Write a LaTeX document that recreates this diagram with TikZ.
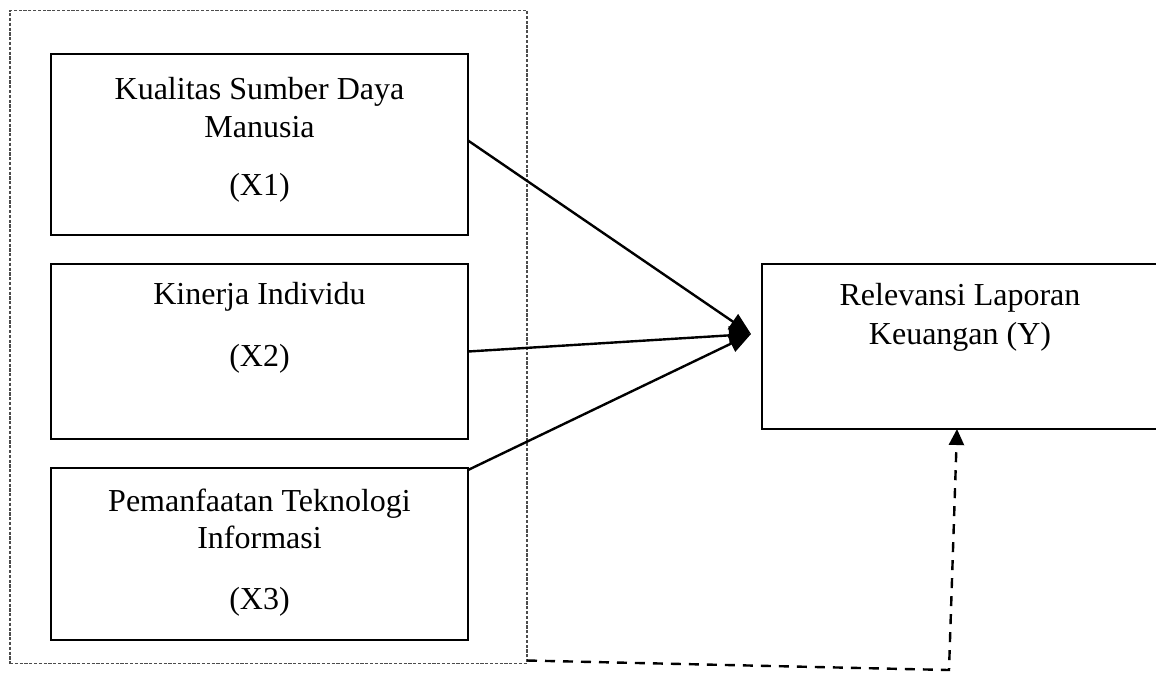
\documentclass[tikz,border=0pt]{standalone}
\usepackage{fontspec}
\setmainfont{Liberation Serif}
\usetikzlibrary{arrows.meta,calc}
\begin{document}
\begin{tikzpicture}[x=0.5pt,y=-0.5pt,
  box/.style={draw, line width=1pt, inner sep=0pt, outer sep=0pt},
  txt/.style={font=\fontsize{16}{19}\selectfont, anchor=base, inner sep=0pt},
  arr/.style={line width=1.2pt, -{Triangle[length=11pt,width=9pt]}},
  dasharr/.style={line width=1.2pt, dash pattern=on 5pt off 4pt, -{Triangle[length=8pt,width=7.5pt]}},
  outerbox/.style={draw=black!70, line width=0.6pt, dash pattern=on 1.6pt off 0.8pt, inner sep=0pt, outer sep=0pt}]
\useasboundingbox (0,0) rectangle (1156,677);
\clip (0,0) rectangle (1156,677);
% outer dotted frame
\node[outerbox, minimum width=258.5pt, minimum height=326.5pt] (outer) at (268.5,337) {};
% boxes
\node[box, minimum width=208.5pt, minimum height=90.5pt] (b1) at (259.5,144.5) {};
\node[box, minimum width=208.5pt, minimum height=87.5pt] (b2) at (259.5,351.5) {};
\node[box, minimum width=208.5pt, minimum height=86pt] (b3) at (259.5,554) {};
\node[box, minimum width=198pt, minimum height=82.5pt] (by) at (960,346.5) {};
% texts
\node[txt] (t1a) at (259.5,99) {Kualitas Sumber Daya};
\node[txt] (t1b) at (259.5,137) {Manusia};
\node[txt] (t1c) at (259.5,195) {(X1)};
\node[txt] (t2a) at (259.5,304) {Kinerja Individu};
\node[txt] (t2b) at (259.5,366) {(X2)};
\node[txt] (t3a) at (259.5,511) {Pemanfaatan Teknologi};
\node[txt] (t3b) at (259.5,548) {Informasi};
\node[txt] (t3c) at (259.5,609) {(X3)};
\node[txt] (tya) at (960,305.5) {Relevansi Laporan};
\node[txt] (tyb) at (960,344.5) {Keuangan (Y)};
% arrows
\coordinate (tip) at (751,334);
\draw[arr] ($(b1.east)+(0,-4)$) -- (tip);
\draw[arr] (b2.east) -- (tip);
\draw[arr] ($(b3.north east)+(0,2)$) -- (tip);
% dashed connector
\coordinate (corner) at (949,670);
\draw[dasharr] ($(outer.south east)+(0,-3)$) -- (corner) -- ($(by.south)+(-3,0)$);
\end{tikzpicture}
\end{document}
